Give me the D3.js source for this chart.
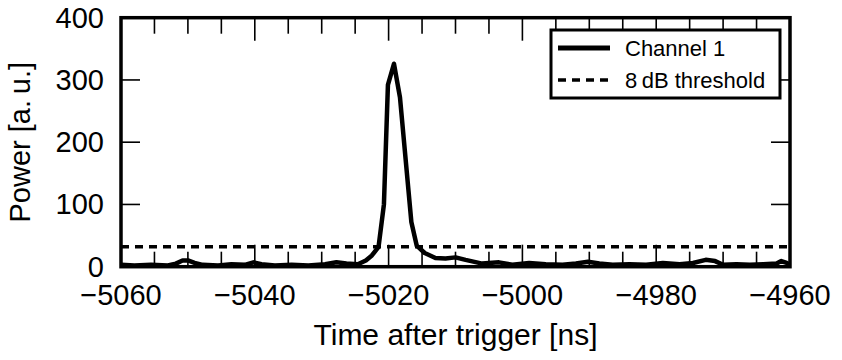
<!DOCTYPE html>
<html>
<head>
<meta charset="utf-8">
<script src="https://cdnjs.cloudflare.com/ajax/libs/d3/7.8.5/d3.min.js"></script>
<style>
  body { margin: 0; background: #fff; }
  svg { font-family: "Liberation Sans", Arial, Helvetica, sans-serif; }
</style>
</head>
<body>
<svg id="chart" width="842" height="360"></svg>
<script>
// time after trigger [ns] and power [a.u.]
const times = [
  -5060, -5058, -5055.5, -5053, -5051.8, -5050.8, -5050, -5049, -5047.8, -5045.5,
  -5043.5, -5041.5, -5040.2, -5039, -5037, -5034.5, -5032, -5029.5, -5027.8, -5026.3,
  -5024.6, -5023.4, -5022.5, -5021.5, -5020.7, -5020.1, -5019.2, -5018.3, -5016.6, -5015.8,
  -5014.6, -5013, -5011.5, -5010, -5008.5, -5006, -5003.5, -5001.5, -4999, -4996.5,
  -4994, -4992, -4990.2, -4988.5, -4986.5, -4984, -4981.5, -4979, -4976.5, -4974.5,
  -4972.6, -4971.2, -4970, -4968, -4966, -4964, -4962, -4961.3, -4960.5, -4960
];
const power = [
  3, 2, 3, 2, 5, 10, 10, 6, 3, 2,
  4, 3, 7, 4, 2, 3, 2, 4, 7, 5,
  4, 10, 18, 32, 100, 292, 326, 272, 72, 34,
  22, 14, 13, 15, 11, 5, 7, 3, 6, 4,
  3, 5, 8, 5, 3, 4, 3, 6, 4, 6,
  11, 9, 3, 4, 3, 4, 5, 9, 6, 3
];
const threshold = 32;

const xTicks = [-5060, -5040, -5020, -5000, -4980, -4960];
const yTicks = [0, 100, 200, 300, 400];
const legendLabels = ["Channel 1", "8\u2009dB threshold"];

const plot = { left: 121, right: 790, top: 17.7, bottom: 266.7 };

const svg = d3.select('#chart');

const x = d3.scaleLinear()
  .domain([-5060, -4960])
  .range([plot.left, plot.right]);

const y = d3.scaleLinear()
  .domain([0, 400])
  .range([plot.bottom, plot.top]);

const fmt = function(d) { return d < 0 ? "\u2212" + Math.abs(d) : String(d); };

// minor ticks every 5 ns, major every 20 ns, top and bottom, pointing inwards
const minorX = x.ticks(20).filter(function(d) { return xTicks.indexOf(d) < 0; });

function tickLines(g, values, len, side) {
  g.selectAll("line")
    .data(values)
    .enter().append("line")
    .attr("x1", function(d) { return x(d); })
    .attr("x2", function(d) { return x(d); })
    .attr("y1", side === "bottom" ? plot.bottom : plot.top)
    .attr("y2", side === "bottom" ? plot.bottom - len : plot.top + len)
    .attr("stroke", "#000")
    .attr("stroke-width", 1.6);
}

const ticks = svg.append("g").attr("class", "ticks");
tickLines(ticks.append("g"), minorX, 15, "bottom");
tickLines(ticks.append("g"), xTicks, 22, "bottom");
tickLines(ticks.append("g"), minorX, 16, "top");
tickLines(ticks.append("g"), xTicks, 23, "top");

ticks.append("g").selectAll("line")
  .data(yTicks)
  .enter().append("line")
  .attr("x1", plot.left)
  .attr("x2", plot.left + 19)
  .attr("y1", function(d) { return y(d); })
  .attr("y2", function(d) { return y(d); })
  .attr("stroke", "#000")
  .attr("stroke-width", 1.6);

ticks.append("g").selectAll("line")
  .data(yTicks)
  .enter().append("line")
  .attr("x1", plot.right)
  .attr("x2", plot.right - 19)
  .attr("y1", function(d) { return y(d); })
  .attr("y2", function(d) { return y(d); })
  .attr("stroke", "#000")
  .attr("stroke-width", 1.6);

// threshold
svg.append("line")
  .attr("x1", x(-5060))
  .attr("x2", x(-4960))
  .attr("y1", y(threshold))
  .attr("y2", y(threshold))
  .attr("stroke", "#000")
  .attr("stroke-width", 3.5)
  .attr("stroke-dasharray", "8,6");

// trace
const line = d3.line()
  .x(function(d, i) { return x(times[i]); })
  .y(function(d) { return y(d); });

svg.append("path")
  .datum(power)
  .attr("d", line)
  .attr("fill", "none")
  .attr("stroke", "#000")
  .attr("stroke-width", 4.5)
  .attr("stroke-linejoin", "round");

// frame
svg.append("rect")
  .attr("x", plot.left)
  .attr("y", plot.top)
  .attr("width", plot.right - plot.left)
  .attr("height", plot.bottom - plot.top)
  .attr("fill", "none")
  .attr("stroke", "#000")
  .attr("stroke-width", 3.5);

// tick labels
svg.append("g").selectAll("text")
  .data(xTicks)
  .enter().append("text")
  .attr("x", function(d) { return x(d); })
  .attr("y", 305)
  .attr("text-anchor", "middle")
  .attr("font-size", "29px")
  .text(fmt);

svg.append("g").selectAll("text")
  .data(yTicks)
  .enter().append("text")
  .attr("x", 104)
  .attr("y", function(d) { return y(d); })
  .attr("dy", "0.34em")
  .attr("text-anchor", "end")
  .attr("font-size", "29px")
  .text(fmt);

// axis titles
svg.append("text")
  .attr("x", (plot.left + plot.right) / 2)
  .attr("y", 345)
  .attr("text-anchor", "middle")
  .attr("font-size", "30px")
  .text("Time after trigger [ns]");

svg.append("text")
  .attr("transform", "translate(30," + ((plot.top + plot.bottom) / 2) + ") rotate(-90)")
  .attr("text-anchor", "middle")
  .attr("font-size", "29px")
  .text("Power [a.\u2009u.]");

// LEGEND
const legend = svg.append("g").attr("id", "legend");

legend.append("rect")
  .attr("x", 551)
  .attr("y", 30)
  .attr("width", 229)
  .attr("height", 68)
  .attr("fill", "#fff")
  .attr("stroke", "#000")
  .attr("stroke-width", 3);

const legendElem = legend.selectAll("g")
  .data(legendLabels)
  .enter().append("g")
  .attr("transform", function(d, i) { return "translate(558," + (48 + i * 32) + ")"; });

legendElem.append("line")
  .attr("x1", 0)
  .attr("x2", 52)
  .attr("stroke", "#000")
  .attr("stroke-width", function(d, i) { return i === 0 ? 5 : 3.5; })
  .attr("stroke-dasharray", function(d, i) { return i === 0 ? null : "8,6"; });

legendElem.append("text")
  .attr("x", 67)
  .attr("dy", "0.36em")
  .attr("font-size", "22px")
  .text(function(d) { return d; });
</script>
</body>
</html>
